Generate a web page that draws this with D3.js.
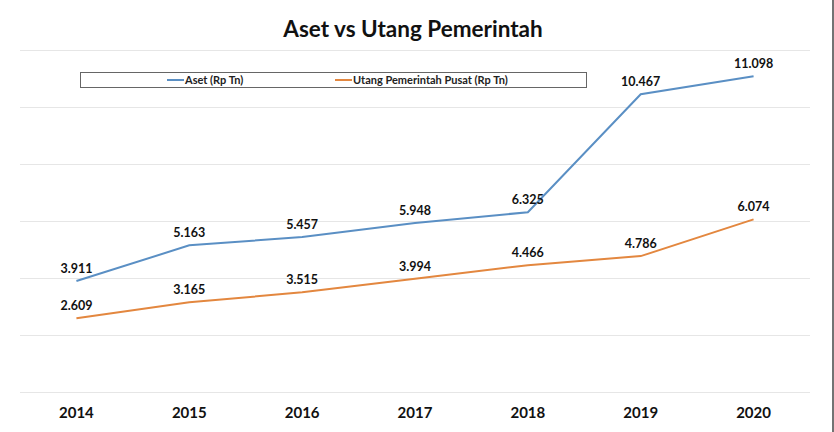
<!DOCTYPE html>
<html>
<head>
<meta charset="utf-8">
<script src="https://cdn.jsdelivr.net/npm/d3@7/dist/d3.min.js"></script>
<style>
  html, body { margin: 0; padding: 0; background: #fff; }
  svg { display: block; font-family: "Lato", "Open Sans", sans-serif; }
</style>
</head>
<body>
<svg id="chart" width="834" height="432"></svg>
<script>
const years = ["2014", "2015", "2016", "2017", "2018", "2019", "2020"];
const aset = [3.911, 5.163, 5.457, 5.948, 6.325, 10.467, 11.098];
const utang = [2.609, 3.165, 3.515, 3.994, 4.466, 4.786, 6.074];
const seriesNames = ["Aset (Rp Tn)", "Utang Pemerintah Pusat (Rp Tn)"];
const seriesColors = ["#5a8fc4", "#e3873f"];
const yTicks = [0, 2, 4, 6, 8, 10, 12];
const title = "Aset vs Utang Pemerintah";

const svg = d3.select("#chart");
const W = 834, H = 432;
const plot = { left: 20, right: 810, top: 50.5, bottom: 392.5 };

const x = d3.scalePoint().domain(years).range([plot.left, plot.right]).padding(0.5);
const y = d3.scaleLinear().domain([0, 12]).range([plot.bottom, plot.top]);

// right border
svg.append("line").attr("x1", 833).attr("x2", 833).attr("y1", 0).attr("y2", H)
  .attr("stroke", "#444").attr("stroke-width", 1.5);

// gridlines
svg.append("g").selectAll("line").data(yTicks).join("line")
  .attr("x1", plot.left).attr("x2", plot.right)
  .attr("y1", d => y(d)).attr("y2", d => y(d))
  .attr("stroke", "#e6e6e6").attr("stroke-width", 1.2);

// title
svg.append("text").attr("x", 413).attr("y", 37).attr("text-anchor", "middle")
  .attr("font-size", 22.5).attr("font-weight", "bold").attr("fill", "#111").text(title);

// legend
const lg = svg.append("g");
lg.append("rect").attr("x", 80.5).attr("y", 72.5).attr("width", 506).attr("height", 15)
  .attr("fill", "#fff").attr("stroke", "#666").attr("stroke-width", 1);
const legendX = [167, 335];
seriesNames.forEach((n, i) => {
  lg.append("line").attr("x1", legendX[i]).attr("x2", legendX[i] + 17)
    .attr("y1", 80).attr("y2", 80).attr("stroke", seriesColors[i]).attr("stroke-width", 2);
  lg.append("text").attr("x", legendX[i] + 18).attr("y", 84)
    .attr("font-size", 11).attr("font-weight", "bold").attr("fill", "#222").text(n);
});

// lines
const line = d3.line().x((d, i) => x(years[i])).y(d => y(d));
[aset, utang].forEach((s, i) => {
  svg.append("path").datum(s).attr("d", line).attr("fill", "none")
    .attr("stroke", seriesColors[i]).attr("stroke-width", 2);
  svg.append("g").selectAll("text").data(s).join("text")
    .attr("x", (d, j) => x(years[j])).attr("y", d => y(d) - 8)
    .attr("text-anchor", "middle").attr("font-size", 12.5).attr("font-weight", "bold")
    .attr("fill", "#111").text(d => d.toFixed(3));
});

// x axis labels
svg.append("g").selectAll("text").data(years).join("text")
  .attr("x", d => x(d)).attr("y", 418).attr("text-anchor", "middle")
  .attr("font-size", 15).attr("font-weight", "bold").attr("fill", "#111").text(d => d);
</script>
</body>
</html>
